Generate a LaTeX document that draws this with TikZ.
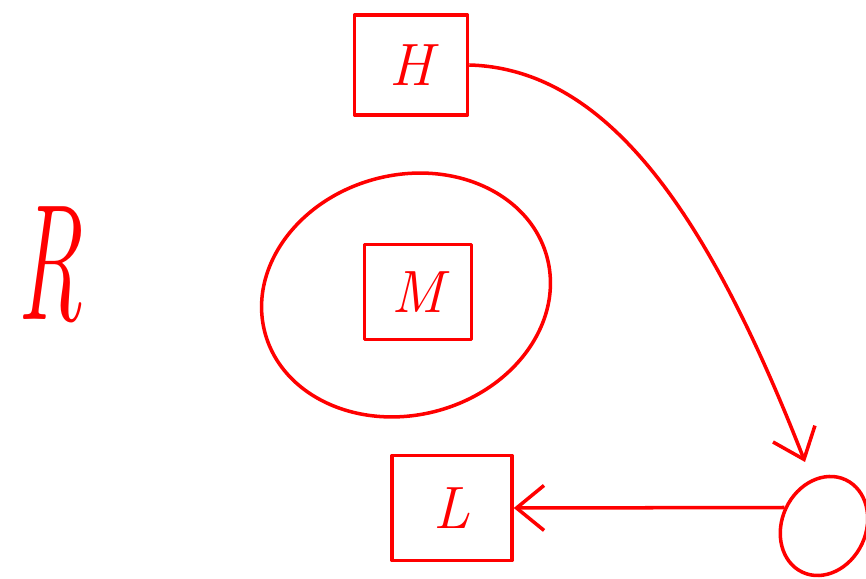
\documentclass[tikz,border=0pt]{standalone}
\usepackage{tikz}
\usetikzlibrary{arrows.meta,shapes.geometric}

\begin{document}
\begin{tikzpicture}[
  sketch/.style={draw=red, line width=2pt, line join=round},
  box/.style={sketch, minimum width=2.2cm, minimum height=2cm, text=red, font=\fontsize{34}{34}\selectfont\itshape},
  blob/.style={sketch, ellipse, inner sep=0pt},
  arr/.style={draw=red, line width=2pt, -{Straight Barb[length=0.55cm, width=0.9cm]}}
]
\useasboundingbox (0,0) rectangle (17.32,11.58);

% Boxes
\node[box, minimum width=2.26cm] (h) at (8.22,10.28) {H};
\node[blob, minimum width=5.84cm, minimum height=4.8cm, rotate=15] (ring) at (8.12,5.68) {};
\node[box, minimum width=2.14cm, minimum height=1.9cm] (m) at (8.36,5.74) {M};
\node[box, minimum width=2.4cm, minimum height=2.1cm] (l) at (9.04,1.42) {L};
\node[blob, minimum width=1.68cm, minimum height=2.04cm, rotate=-25] (o) at (16.48,1.06) {};

% Label
\node[text=red, font=\fontsize{94}{94}\selectfont\itshape, xscale=0.55, transform shape] (r) at (1.0,6.28) {R};

% Arrows
\coordinate (tip) at (16.1,2.34);
\draw[arr] (h.east) .. controls (12.2,10.2) and (14.2,7.2) .. (tip);
\draw[arr] (o.west) -- (l.east);
\end{tikzpicture}
\end{document}
